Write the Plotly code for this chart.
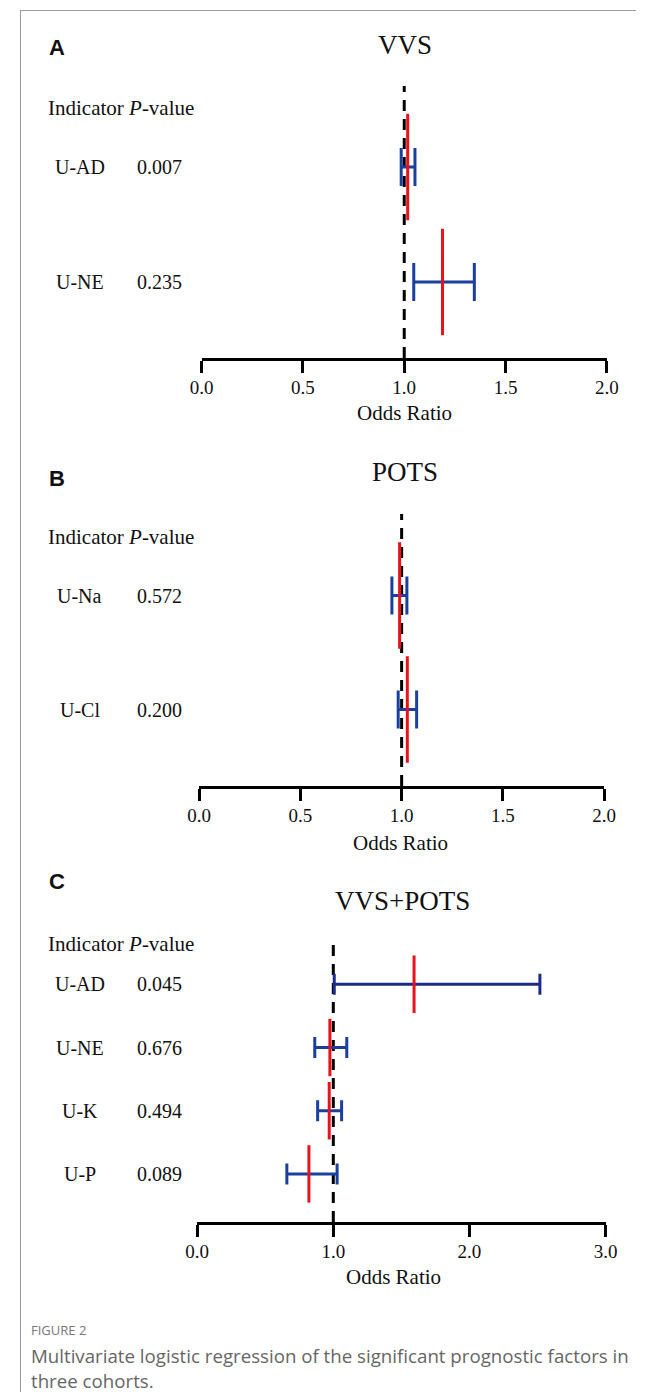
import plotly.graph_objects as go

# page is 648x1392; browser body margin is 8px, so the figure starts at (8, 8)
PAGE_W, PAGE_H = 648, 1392
OFF = 8
W, H = PAGE_W - OFF, PAGE_H   # extra height so the last caption line is not clipped

# ---------------- data ----------------
panel_letters = ["A", "B", "C"]
cohort_titles = ["VVS", "POTS", "VVS+POTS"]

a_indicators = ["U-AD", "U-NE"]
a_pvalues = ["0.007", "0.235"]
a_or = [1.017, 1.189]
a_lower = [0.985, 1.047]
a_upper = [1.053, 1.346]

b_indicators = ["U-Na", "U-Cl"]
b_pvalues = ["0.572", "0.200"]
b_or = [0.990, 1.028]
b_lower = [0.952, 0.983]
b_upper = [1.026, 1.074]

c_indicators = ["U-AD", "U-NE", "U-K", "U-P"]
c_pvalues = ["0.045", "0.676", "0.494", "0.089"]
c_or = [1.593, 0.975, 0.970, 0.821]
c_lower = [1.007, 0.864, 0.885, 0.659]
c_upper = [2.517, 1.099, 1.061, 1.028]

ab_tickvals = [0, 0.5, 1.0, 1.5, 2.0]
ab_ticktext = ["0.0", "0.5", "1.0", "1.5", "2.0"]
c_tickvals = [0, 1.0, 2.0, 3.0]
c_ticktext = ["0.0", "1.0", "2.0", "3.0"]

x_title = "Odds Ratio"
header_text = "Indicator <i>P</i>-value"
fig_label = "FIGURE 2"
caption_lines = ["Multivariate logistic regression of the significant prognostic factors in",
                 "three cohorts."]

# ---------------- styling / layout geometry ----------------
SERIF = "Liberation Serif, Times New Roman, serif"
SANS = "Liberation Sans, Arial, sans-serif"
CAPFONT = "Open Sans, Noto Sans, sans-serif"
RED = "#E8121C"
BLUE = "#1A3F9E"
NAVY = "#1C2B87"
TXT = "#111111"


def px_x(p):
    return (p - OFF) / W


def px_y(p):
    return 1 - (p - OFF) / H


panels = [
    dict(ind=a_indicators, pv=a_pvalues, orr=a_or, lo=a_lower, hi=a_upper,
         tv=ab_tickvals, tt=ab_ticktext, xr=[0, 2], xpx=(196.7, 617.7),
         bottom=358, top=86, row0=167, step=115, mark=76, cap=19,
         title_y=45, letter_y=47, header_y=108, xt_y=413, title_x=408, xt_x=407,
         colors=[BLUE, BLUE]),
    dict(ind=b_indicators, pv=b_pvalues, orr=b_or, lo=b_lower, hi=b_upper,
         tv=ab_tickvals, tt=ab_ticktext, xr=[0, 2], xpx=(194, 615),
         bottom=786, top=514, row0=595.5, step=114, mark=76, cap=19,
         title_y=472, letter_y=478, header_y=537, xt_y=843, title_x=408, xt_x=403,
         colors=[BLUE, BLUE]),
    dict(ind=c_indicators, pv=c_pvalues, orr=c_or, lo=c_lower, hi=c_upper,
         tv=c_tickvals, tt=c_ticktext, xr=[0, 3], xpx=(192, 616.5),
         bottom=1222, top=945, row0=984.3, step=63.2, mark=41, cap=10.5,
         title_y=901, letter_y=881, header_y=944, xt_y=1277, title_x=405, xt_x=396,
         colors=[NAVY, BLUE, BLUE, BLUE]),
]

fig = go.Figure()
annotations = []
shapes = []
layout_axes = {}

for i, p in enumerate(panels):
    n = i + 1
    xa = "x" if n == 1 else f"x{n}"
    ya = "y" if n == 1 else f"y{n}"
    xkey = "xaxis" if n == 1 else f"xaxis{n}"
    ykey = "yaxis" if n == 1 else f"yaxis{n}"
    rows = list(range(len(p["ind"])))

    yr = [(p["bottom"] - p["row0"]) / p["step"], (p["top"] - p["row0"]) / p["step"]]
    layout_axes[xkey] = dict(
        domain=[px_x(p["xpx"][0]), px_x(p["xpx"][1])], range=p["xr"], anchor=ya,
        showline=True, linewidth=3, linecolor="black", ticks="outside", ticklen=12,
        tickwidth=3, tickcolor="black", tickvals=p["tv"], ticktext=p["tt"],
        ticklabelstandoff=-2,
        tickfont=dict(family=SERIF, size=19, color=TXT), showgrid=False,
        zeroline=False, fixedrange=True)
    layout_axes[ykey] = dict(
        domain=[px_y(p["bottom"]), px_y(p["top"])], range=yr, anchor=xa,
        visible=False, showgrid=False, zeroline=False, fixedrange=True)

    # reference line at OR = 1
    shapes.append(dict(type="line", xref=xa, yref=f"{ya} domain", x0=1, x1=1, y0=0, y1=1,
                       line=dict(color="black", width=3, dash="11px,8px"), layer="below"))

    for r in rows:
        fig.add_trace(go.Scatter(
            x=[p["orr"][r]], y=[r], xaxis=xa, yaxis=ya, mode="markers",
            error_x=dict(type="data", symmetric=False,
                         array=[p["hi"][r] - p["orr"][r]],
                         arrayminus=[p["orr"][r] - p["lo"][r]],
                         color=p["colors"][r], thickness=3, width=p["cap"]),
            marker=dict(symbol="line-ns", size=p["mark"],
                        line=dict(color=RED, width=3), color=RED),
            showlegend=False, hoverinfo="skip"))

        annotations.append(dict(text=p["ind"][r], x=px_x(70), xref="paper", y=r, yref=ya,
                                xanchor="center", yanchor="middle", showarrow=False,
                                font=dict(family=SERIF, size=20, color=TXT)))
        annotations.append(dict(text=p["pv"][r], x=px_x(127), xref="paper", y=r, yref=ya,
                                xanchor="left", yanchor="middle", showarrow=False,
                                font=dict(family=SERIF, size=20, color=TXT)))

    annotations.append(dict(text=header_text, x=px_x(35), y=px_y(p["header_y"]), xref="paper",
                            yref="paper", xanchor="left", yanchor="middle", showarrow=False,
                            font=dict(family=SERIF, size=21, color=TXT)))
    annotations.append(dict(text=cohort_titles[i], x=px_x(p["title_x"]), y=px_y(p["title_y"]),
                            xref="paper", yref="paper", xanchor="center", yanchor="middle",
                            showarrow=False, font=dict(family=SERIF, size=27, color=TXT)))
    annotations.append(dict(text=f"<b>{panel_letters[i]}</b>", x=px_x(36), y=px_y(p["letter_y"]),
                            xref="paper", yref="paper", xanchor="left", yanchor="middle",
                            showarrow=False, font=dict(family=SANS, size=22, color=TXT)))
    annotations.append(dict(text=x_title, x=px_x(p["xt_x"]), y=px_y(p["xt_y"]),
                            xref="paper", yref="paper", xanchor="center", yanchor="middle",
                            showarrow=False, font=dict(family=SERIF, size=21, color=TXT)))

# caption
annotations.append(dict(text=fig_label, x=px_x(17), y=px_y(1330), xref="paper", yref="paper",
                        xanchor="left", yanchor="middle", showarrow=False,
                        font=dict(family=CAPFONT, size=13, color="#777")))
for k, line in enumerate(caption_lines):
    annotations.append(dict(text=line, x=px_x(17), y=px_y(1355 + 25 * k), xref="paper",
                            yref="paper", xanchor="left", yanchor="middle", showarrow=False,
                            font=dict(family=CAPFONT, size=18.7, color="#666")))

# frame (left + top border)
shapes.append(dict(type="line", xref="paper", yref="paper", x0=px_x(8.5), x1=px_x(8.5),
                   y0=px_y(10), y1=0, line=dict(color="#9a9a9a", width=1)))
shapes.append(dict(type="line", xref="paper", yref="paper", x0=px_x(8.5), x1=1,
                   y0=px_y(10.5), y1=px_y(10.5), line=dict(color="#9a9a9a", width=1)))

fig.update_layout(width=W, height=H, margin=dict(l=0, r=0, t=0, b=0),
                  paper_bgcolor="white", plot_bgcolor="rgba(0,0,0,0)",
                  annotations=annotations, shapes=shapes, showlegend=False, **layout_axes)

fig.write_html("out.html", config={"displayModeBar": False})
